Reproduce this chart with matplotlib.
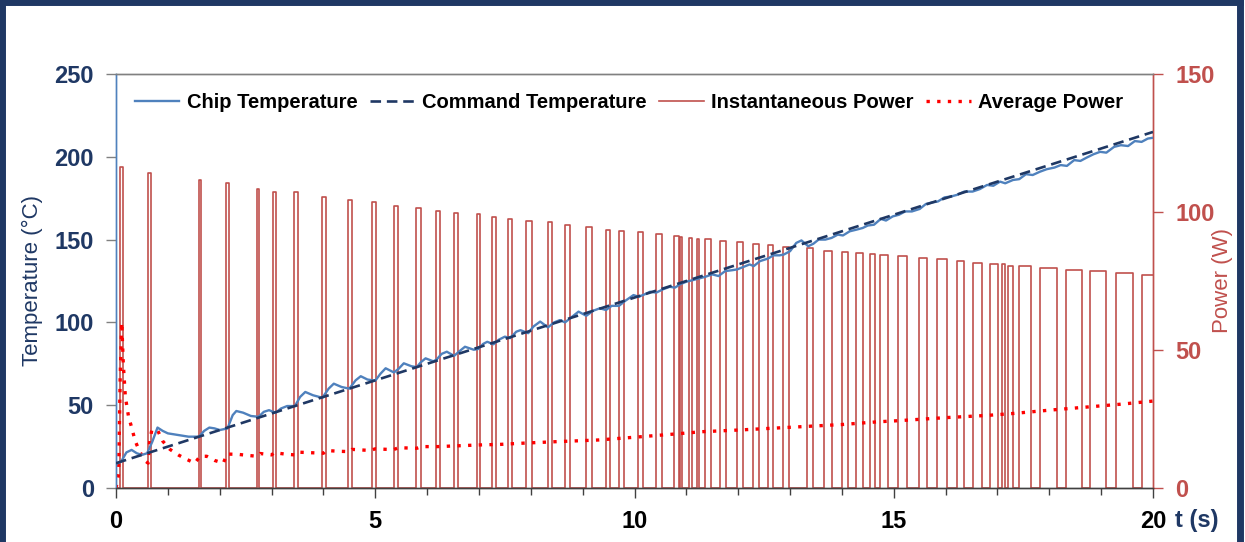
import matplotlib
matplotlib.use("Agg")
import matplotlib.pyplot as plt
from matplotlib.lines import Line2D
from matplotlib import font_manager as fm

# ---- data -------------------------------------------------------------
# instantaneous power pulses: start time (s), end time (s), peak power (W)
pulse_start = [0.077, 0.623, 1.601, 2.122, 2.725, 3.034, 3.439, 3.979, 4.480, 4.943,
               5.367, 5.792, 6.172, 6.525, 6.957, 7.257, 7.566, 7.913, 8.332, 8.654,
               9.070, 9.450, 9.695, 10.062, 10.420, 10.768, 10.883, 11.057, 11.200, 11.360,
               11.655, 11.977, 12.291, 12.569, 12.864, 13.333, 13.661, 13.996, 14.272, 14.542,
               14.735, 15.088, 15.487, 15.829, 16.214, 16.523, 16.856, 17.082, 17.209, 17.421,
               17.821, 18.322, 18.785, 19.286, 19.782]
pulse_end = [0.129, 0.681, 1.645, 2.179, 2.764, 3.080, 3.504, 4.044, 4.552, 5.009,
             5.433, 5.877, 6.243, 6.596, 7.020, 7.334, 7.643, 8.017, 8.409, 8.756,
             9.180, 9.528, 9.792, 10.170, 10.536, 10.853, 10.922, 11.103, 11.244, 11.476,
             11.770, 12.093, 12.401, 12.671, 12.980, 13.449, 13.803, 14.112, 14.401, 14.638,
             14.895, 15.250, 15.647, 16.022, 16.355, 16.697, 17.005, 17.146, 17.306, 17.641,
             18.143, 18.636, 19.094, 19.608, 20.05]
pulse_power = [116.2, 114.2, 111.6, 110.6, 108.2, 107.2, 107.1, 105.3, 104.3, 103.5,
               102.1, 101.6, 100.4, 99.7, 99.3, 98.3, 97.4, 96.8, 96.3, 95.3,
               94.5, 93.6, 93.1, 92.6, 92.0, 91.3, 91.1, 90.5, 90.1, 90.1,
               89.6, 89.1, 88.5, 87.9, 87.4, 86.8, 86.0, 85.6, 85.1, 84.8,
               84.4, 84.1, 83.4, 82.9, 82.1, 81.6, 81.1, 81.1, 80.5, 80.4,
               79.8, 79.0, 78.6, 77.8, 77.2]

# command temperature ramp (°C)
command_t = [0.0, 20.0]
command_temp = [15.0, 215.0]

# measured chip temperature (°C)
chip_t = [0.00, 0.10, 0.20, 0.30, 0.40, 0.50, 0.60, 0.70, 0.80, 0.90, 1.00, 1.20, 1.40,
          1.60, 1.70, 1.80, 1.90, 2.00, 2.15, 2.25, 2.32, 2.45, 2.60, 2.75, 2.85, 2.95,
          3.08, 3.18, 3.30, 3.45, 3.55, 3.65, 3.80, 3.98, 4.10, 4.20, 4.35, 4.50, 4.62,
          4.72, 4.85, 5.00, 5.10, 5.20, 5.36, 5.45, 5.55, 5.70, 5.80, 5.88, 5.97, 6.12,
          6.18, 6.28, 6.38, 6.52, 6.62, 6.73, 6.90, 6.99, 7.08, 7.16, 7.28, 7.38, 7.50,
          7.60, 7.72, 7.80, 7.95, 8.05, 8.18, 8.33, 8.45, 8.56, 8.66, 8.78, 8.92, 9.07,
          9.20, 9.33, 9.45, 9.56, 9.70, 9.82, 9.98, 10.08, 10.20, 10.30, 10.42, 10.55,
          10.68, 10.78, 10.88, 11.00, 11.12, 11.24, 11.36, 11.50, 11.62, 11.75, 11.88,
          11.98, 12.10, 12.22, 12.30, 12.42, 12.57, 12.68, 12.80, 12.88, 13.00, 13.12,
          13.22, 13.35, 13.45, 13.55, 13.68, 13.80, 13.92, 14.02, 14.15, 14.28, 14.40,
          14.50, 14.62, 14.75, 14.85, 14.98, 15.10, 15.22, 15.35, 15.50, 15.62, 15.75,
          15.85, 15.98, 16.10, 16.22, 16.36, 16.52, 16.66, 16.80, 16.92, 17.05, 17.15,
          17.30, 17.42, 17.55, 17.68, 17.82, 17.95, 18.10, 18.22, 18.34, 18.48, 18.60,
          18.72, 18.85, 18.98, 19.10, 19.25, 19.38, 19.52, 19.65, 19.78, 19.90, 20.00]
chip_temp = [14.5, 16.0, 21.5, 23.0, 21.0, 20.0, 21.0, 28.0, 36.5, 34.5, 33.0, 32.0, 31.0,
             31.0, 34.5, 36.5, 36.0, 35.0, 36.0, 44.0, 46.5, 45.5, 43.5, 43.0, 46.0, 47.0,
             45.5, 48.0, 49.5, 49.5, 55.0, 58.0, 56.0, 54.5, 60.0, 63.0, 61.0, 60.0, 65.0,
             67.5, 65.5, 64.8, 69.0, 72.3, 69.8, 72.0, 75.3, 73.5, 73.0, 76.0, 78.3, 76.5,
             77.5, 81.0, 82.3, 79.8, 82.5, 85.3, 83.5, 84.0, 87.0, 88.3, 86.8, 89.5, 91.4,
             90.5, 94.4, 95.3, 93.5, 97.5, 100.5, 97.0, 100.0, 101.4, 100.0, 103.0, 106.5, 104.0,
             107.0, 108.5, 107.5, 110.0, 110.0, 113.0, 116.5, 115.5, 117.0, 118.5, 118.0, 120.0,
             121.5, 121.0, 123.0, 124.6, 125.5, 126.5, 127.5, 129.0, 128.0, 131.0, 131.5,
             132.0, 133.5, 135.0, 134.0, 137.0, 138.5, 140.5, 140.5, 141.0, 143.0, 148.0,
             149.5, 146.0, 147.5, 150.0, 150.0, 151.0, 153.0, 152.5, 155.0, 156.0, 157.0,
             158.5, 159.0, 162.5, 161.5, 164.0, 165.0, 167.0, 167.0, 168.5, 171.5, 172.5,
             173.0, 175.5, 176.0, 177.0, 179.0, 179.0, 180.5, 183.0, 182.5, 185.0, 184.0,
             186.0, 186.5, 189.5, 189.0, 191.0, 192.5, 193.5, 195.0, 194.5, 198.0, 197.5,
             199.5, 201.5, 203.0, 202.5, 206.0, 207.0, 206.5, 209.5, 209.0, 211.0, 211.5]

# running average power (W)
avg_t = [0.00, 0.05, 0.08, 0.11, 0.14, 0.18, 0.24, 0.30, 0.37, 0.45, 0.55, 0.62, 0.65,
         0.69, 0.80, 0.90, 1.04, 1.20, 1.35, 1.52, 1.62, 1.75, 1.90, 2.07, 2.14, 2.35,
         2.55, 2.72, 2.78, 3.00, 3.05, 3.30, 3.45, 3.50, 3.75, 4.00, 4.05, 4.30, 4.50,
         4.55, 4.90, 5.00, 5.35, 5.45, 5.80, 5.90, 6.20, 6.60, 7.00, 7.40, 7.80, 8.50,
         9.30, 10.00, 10.80, 11.30, 12.00, 12.60, 13.20, 14.00, 14.70, 15.10, 16.00,
         16.80, 17.30, 18.00, 18.70, 19.40, 20.00]
avg_power = [0.0, 5.0, 40.0, 60.0, 45.0, 33.0, 26.0, 22.0, 17.0, 13.5, 10.0, 9.0, 17.0,
             21.0, 21.0, 17.0, 14.0, 12.0, 10.5, 9.0, 11.5, 11.5, 10.0, 9.0, 12.3, 12.2,
             11.8, 11.5, 12.5, 12.0, 12.8, 12.2, 12.0, 13.0, 12.8, 12.6, 13.6, 13.3, 13.2,
             14.0, 13.6, 14.2, 13.9, 14.6, 14.4, 15.0, 15.0, 15.3, 15.6, 15.8, 16.2, 16.8,
             17.4, 18.4, 19.6, 20.4, 21.0, 21.6, 22.2, 23.0, 24.0, 24.4, 25.5,
             26.3, 27.0, 28.2, 29.3, 30.4, 31.5]

x_ticks = [0, 5, 10, 15, 20]
temp_ticks = [0, 50, 100, 150, 200, 250]
power_ticks = [0, 50, 100, 150]

# ---- styling ----------------------------------------------------------
names = {f.name for f in fm.fontManager.ttflist}
narrow = "Liberation Sans Narrow" if "Liberation Sans Narrow" in names else "Liberation Sans"
plt.rcParams["font.family"] = [narrow, "DejaVu Sans"]

NAVY = "#1F3864"
BLUE = "#4F81BD"
BRICK = "#C0504D"
RED = "#FF0000"

fig = plt.figure(figsize=(12.45, 5.42), dpi=100)
ax = fig.add_axes([0.0932, 0.0996, 0.8329, 0.7639])
ax2 = ax.twinx()

# temperatures (left axis)
ax.plot(chip_t, chip_temp, color=BLUE, lw=1.7, zorder=3)
ax.plot(command_t, command_temp, color=NAVY, lw=1.9, ls=(0, (4, 2.2)), zorder=4)

# instantaneous power as a rectangular pulse train (right axis)
px, py = [0.0], [0.0]
for ts, te, p in zip(pulse_start, pulse_end, pulse_power):
    px += [ts, ts, te, te]
    py += [0.0, p, p, 0.0]
ax2.plot(px, py, color=BRICK, lw=1.2, zorder=2)
ax2.plot(avg_t, avg_power, color=RED, lw=2.4, ls=(0, (1, 2.2)), zorder=3)

ax.set_zorder(ax2.get_zorder() + 1)
ax.patch.set_visible(False)

ax.set_xlim(0, 20)
ax.set_ylim(0, 250)
ax2.set_ylim(0, 150)
ax.set_xticks(x_ticks)
ax.set_xticks(range(0, 21), minor=True)
ax.set_yticks(temp_ticks)
ax2.set_yticks(power_ticks)

ax.tick_params(axis="x", which="major", length=7, width=1, color="#404040",
               labelsize=17, pad=9, labelcolor="black")
ax.tick_params(axis="x", which="minor", length=5, width=1, color="#404040")
ax.tick_params(axis="y", length=7, width=1, color="#808080", labelsize=17, pad=9,
               labelcolor=NAVY)
ax2.tick_params(axis="y", length=7, width=1, color=BRICK, labelsize=17, pad=9,
                labelcolor=BRICK)
for lab in ax.get_xticklabels() + ax.get_yticklabels() + ax2.get_yticklabels():
    lab.set_fontweight("bold")

for a in (ax, ax2):
    a.spines["left"].set_color(BLUE)
    a.spines["right"].set_color(BRICK)
    a.spines["top"].set_color("#808080")
    a.spines["bottom"].set_color("#404040")
    for s in a.spines.values():
        s.set_linewidth(1.0)

ax.set_ylabel("Temperature (°C)", fontsize=16, color=NAVY)
ax.yaxis.set_label_coords(-0.0704, 0.5)
ax2.set_ylabel("Power (W)", fontsize=16, color=BRICK)
ax2.yaxis.set_label_coords(1.057, 0.5)
fig.text(0.944, 0.040, "t (s)", fontsize=17, fontweight="bold", color=NAVY,
         ha="left", va="center")

handles = [
    Line2D([], [], color=BLUE, lw=1.7),
    Line2D([], [], color=NAVY, lw=1.9, ls=(0, (4, 2.2))),
    Line2D([], [], color=BRICK, lw=1.2),
    Line2D([], [], color=RED, lw=2.4, ls=(0, (1, 2.2))),
]
labels = ["Chip Temperature", "Command Temperature", "Instantaneous Power", "Average Power"]
leg = ax.legend(handles, labels, ncol=4, loc="upper left", bbox_to_anchor=(0.0, 1.0),
                frameon=False, fontsize=14.5, handlelength=2.2, handletextpad=0.35,
                columnspacing=0.65, borderaxespad=0.55)
for t in leg.get_texts():
    t.set_fontweight("bold")

# navy frame around the figure (open at the bottom)
frame_kw = dict(color=NAVY, lw=5, transform=fig.transFigure, clip_on=False)
fig.add_artist(Line2D([0.002, 0.002], [0.0, 0.996], **frame_kw))
fig.add_artist(Line2D([0.002, 0.996], [0.996, 0.996], **frame_kw))
fig.add_artist(Line2D([0.996, 0.996], [0.0, 0.996], **frame_kw))

fig.savefig("out.png", dpi=100)
